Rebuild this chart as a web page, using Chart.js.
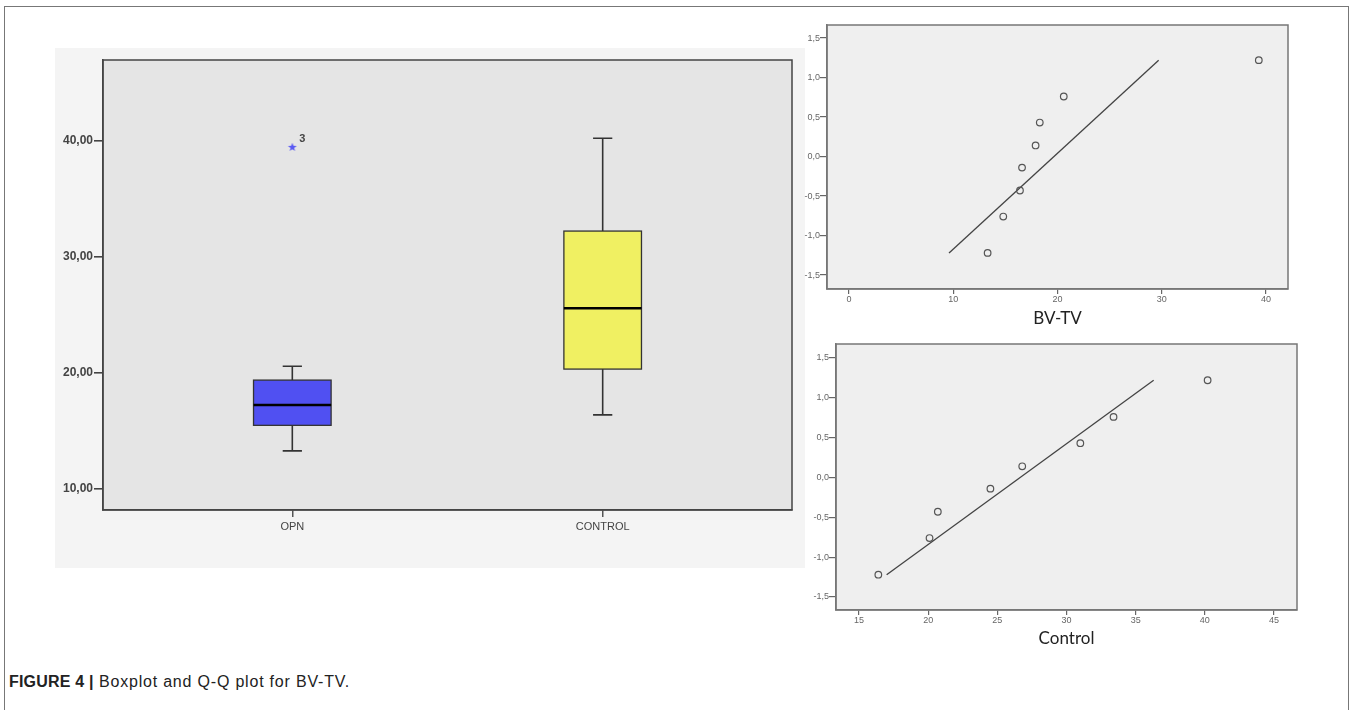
<!DOCTYPE html>
<html>
<head>
<meta charset="utf-8">
<script src="https://cdn.jsdelivr.net/npm/chart.js@4.4.0/dist/chart.umd.min.js"></script>
<style>
  body { margin: 0; background: #fff; width: 1352px; height: 710px; position: relative; overflow: hidden; font-family: "Liberation Sans", Arial, sans-serif; }
  #frame { position: absolute; left: 4px; top: 6px; width: 1345px; height: 740px; border: 1px solid #777; box-sizing: border-box; }
  .wrap { position: absolute; }
  #wrapBox { left: 55px; top: 48px; width: 750px; height: 520px; background: #f4f4f4; }
  #wrapQ1 { left: 790px; top: 14px; width: 520px; height: 320px; }
  #wrapQ2 { left: 790px; top: 333px; width: 520px; height: 330px; }
  #caption { position: absolute; left: 9px; top: 673px; font-size: 16px; letter-spacing: 0.8px; color: #222; white-space: nowrap; }
  #caption b { font-weight: bold; letter-spacing: 0.2px; }
</style>
</head>
<body>
<div id="frame"></div>
<div class="wrap" id="wrapBox"><canvas id="boxChart" width="750" height="520"></canvas></div>
<div class="wrap" id="wrapQ1"><canvas id="qqBv" width="520" height="320"></canvas></div>
<div class="wrap" id="wrapQ2"><canvas id="qqCtrl" width="520" height="330"></canvas></div>
<div id="caption"><b>FIGURE 4 |</b> Boxplot and Q-Q plot for BV-TV.</div>

<script>
// boxplot
const groups = ['OPN', 'CONTROL'];
const whiskerLow = [13.3, 16.4];
const boxLow = [15.5, 20.35];
const medians = [17.25, 25.6];
const boxHigh = [19.4, 32.25];
const whiskerHigh = [20.6, 40.25];
const boxColors = ['#5050f2', '#f0f062'];
const outlierGroup = [1];
const outlierValues = [39.5];
const outlierLabels = ['3'];
const boxTicks = [10, 20, 30, 40];

// Q-Q plots
const qqTicksY = [-1.5, -1, -0.5, 0, 0.5, 1, 1.5];
const bvValues = [13.3, 14.8, 16.4, 16.6, 17.9, 18.3, 20.6, 39.3];
const bvExpected = [-1.22, -0.76, -0.43, -0.14, 0.14, 0.43, 0.76, 1.22];
const bvLineX = [9.6, 29.7];
const bvLineY = [-1.22, 1.22];
const bvTicksX = [0, 10, 20, 30, 40];

const ctrlValues = [16.4, 20.1, 20.7, 24.5, 26.8, 31.0, 33.4, 40.2];
const ctrlExpected = [-1.22, -0.76, -0.43, -0.14, 0.14, 0.43, 0.76, 1.22];
const ctrlLineX = [17.0, 36.3];
const ctrlLineY = [-1.22, 1.22];
const ctrlTicksX = [15, 20, 25, 30, 35, 40, 45];

function comma(v, d) {
    return v.toFixed(d).replace('.', ',');
}

// small filled star like the SPSS extreme marker
function starImage() {
    const cv = document.createElement('canvas');
    cv.width = 10;
    cv.height = 10;
    const c = cv.getContext('2d');
    c.fillStyle = '#5a5af2';
    c.beginPath();
    for (let k = 0; k < 10; k++) {
        const r = k % 2 === 0 ? 4.6 : 1.9;
        const a = -Math.PI / 2 + k * Math.PI / 5;
        c.lineTo(5 + r * Math.cos(a), 5.4 + r * Math.sin(a));
    }
    c.closePath();
    c.fill();
    return cv;
}

// fills plot area and draws the frame round it
function areaPlugin(fill, stroke, width) {
    return {
        id: 'area',
        beforeDraw(chart) {
            const a = chart.chartArea;
            const c = chart.ctx;
            c.save();
            c.fillStyle = fill;
            c.fillRect(a.left, a.top, a.width, a.height);
            c.restore();
        },
        afterDraw(chart) {
            const a = chart.chartArea;
            const c = chart.ctx;
            c.save();
            c.strokeStyle = stroke;
            c.lineWidth = width;
            c.strokeRect(a.left, a.top, a.width, a.height);
            c.restore();
        }
    };
}

const boxPlugin = {
    id: 'boxes',
    beforeDatasetsDraw(chart) {
        const x = chart.scales.x;
        const y = chart.scales.y;
        const c = chart.ctx;
        c.save();
        groups.forEach((g, i) => {
            const cx = x.getPixelForValue(i + 1);
            const half = x.getPixelForValue(i + 1 + 0.125) - cx;
            const cap = x.getPixelForValue(i + 1 + 0.031) - cx;
            const yLo = y.getPixelForValue(boxLow[i]);
            const yHi = y.getPixelForValue(boxHigh[i]);

            c.strokeStyle = '#333';
            c.lineWidth = 1.6;
            c.beginPath();
            c.moveTo(cx, yHi);
            c.lineTo(cx, y.getPixelForValue(whiskerHigh[i]));
            c.moveTo(cx, yLo);
            c.lineTo(cx, y.getPixelForValue(whiskerLow[i]));
            c.moveTo(cx - cap, y.getPixelForValue(whiskerHigh[i]));
            c.lineTo(cx + cap, y.getPixelForValue(whiskerHigh[i]));
            c.moveTo(cx - cap, y.getPixelForValue(whiskerLow[i]));
            c.lineTo(cx + cap, y.getPixelForValue(whiskerLow[i]));
            c.stroke();

            c.fillStyle = boxColors[i];
            c.fillRect(cx - half, yHi, half * 2, yLo - yHi);
            c.lineWidth = 1.3;
            c.strokeRect(cx - half, yHi, half * 2, yLo - yHi);

            c.strokeStyle = '#000';
            c.lineWidth = 2.6;
            c.beginPath();
            c.moveTo(cx - half, y.getPixelForValue(medians[i]));
            c.lineTo(cx + half, y.getPixelForValue(medians[i]));
            c.stroke();
        });
        c.restore();
    },
    afterDatasetsDraw(chart) {
        const x = chart.scales.x;
        const y = chart.scales.y;
        const c = chart.ctx;
        c.save();
        c.fillStyle = '#444';
        c.font = 'bold 11px "Liberation Sans", Arial';
        c.textAlign = 'left';
        c.textBaseline = 'middle';
        outlierValues.forEach((v, i) => {
            c.fillText(outlierLabels[i], x.getPixelForValue(outlierGroup[i]) + 7, y.getPixelForValue(v) - 8);
        });
        c.restore();
    }
};

new Chart(document.getElementById('boxChart'), {
    type: 'scatter',
    data: {
        datasets: [{
            data: outlierValues.map((v, i) => ({ x: outlierGroup[i], y: v })),
            pointStyle: starImage(),
            pointRadius: 5
        }]
    },
    options: {
        responsive: false,
        animation: false,
        layout: { padding: { left: 0, top: 12, right: 13, bottom: 0 } },
        plugins: { legend: { display: false }, tooltip: { enabled: false } },
        scales: {
            x: {
                type: 'linear',
                min: 0.39,
                max: 2.61,
                afterBuildTicks: s => { s.ticks = groups.map((g, i) => ({ value: i + 1 })); },
                afterFit: s => { s.height = 58; },
                ticks: { callback: v => groups[v - 1] || '', color: '#444', font: { size: 11, family: '"Liberation Sans", Arial' }, padding: 3, maxRotation: 0, autoSkip: false },
                grid: { drawOnChartArea: false, tickLength: 7, color: '#555', lineWidth: 1.5 },
                border: { display: true, color: '#444', width: 1.5 }
            },
            y: {
                min: 8.2,
                max: 47,
                afterBuildTicks: s => { s.ticks = boxTicks.map(v => ({ value: v })); },
                afterFit: s => { s.width = 48; },
                ticks: { callback: v => comma(v, 2), color: '#444', font: { size: 12, weight: 'bold', family: '"Liberation Sans", Arial' }, padding: 1 },
                grid: { drawOnChartArea: false, tickLength: 9, color: '#444', lineWidth: 1.6 },
                border: { display: true, color: '#444', width: 1.5 }
            }
        }
    },
    plugins: [areaPlugin('#e5e5e5', '#444', 1.5), boxPlugin]
});

function qqChart(id, values, expected, lineX, lineY, ticksX, xMin, xMax, yMin, yMax, title, layout) {
    const tickFont = { size: 9, family: '"Liberation Sans", Arial' };
    return new Chart(document.getElementById(id), {
        type: 'scatter',
        data: {
            datasets: [{
                data: values.map((v, i) => ({ x: v, y: expected[i] })),
                pointStyle: 'circle',
                pointRadius: 3.3,
                backgroundColor: 'rgba(0,0,0,0)',
                borderColor: '#555',
                borderWidth: 1.2
            }, {
                type: 'line',
                data: lineX.map((v, i) => ({ x: v, y: lineY[i] })),
                borderColor: '#444',
                borderWidth: 1.3,
                pointRadius: 0,
                fill: false
            }]
        },
        options: {
            responsive: false,
            animation: false,
            layout: { padding: { left: 0, top: layout.top, right: layout.right, bottom: 0 } },
            plugins: { legend: { display: false }, tooltip: { enabled: false } },
            scales: {
                x: {
                    type: 'linear',
                    min: xMin,
                    max: xMax,
                    afterBuildTicks: s => { s.ticks = ticksX.map(v => ({ value: v })); },
                    afterFit: s => { s.height = layout.axisH; },
                    ticks: { callback: v => String(v), color: '#666', font: tickFont, padding: 0, maxRotation: 0, autoSkip: false },
                    grid: { drawOnChartArea: false, tickLength: 5, color: '#666', lineWidth: 1.2 },
                    border: { display: true, color: '#777', width: 1.5 },
                    title: { display: true, text: title, color: '#222', font: { size: 17, family: 'Lato' }, padding: { top: 0, bottom: layout.titlePad } }
                },
                y: {
                    min: yMin,
                    max: yMax,
                    afterBuildTicks: s => { s.ticks = qqTicksY.map(v => ({ value: v })); },
                    afterFit: s => { s.width = layout.axisW; },
                    ticks: { callback: v => comma(v, 1), color: '#666', font: tickFont, padding: 0 },
                    grid: { drawOnChartArea: false, tickLength: 7, color: '#666', lineWidth: 1.2 },
                    border: { display: true, color: '#777', width: 1.5 }
                }
            }
        },
        plugins: [areaPlugin('#efefef', '#777', 1.5)]
    });
}

qqChart('qqBv', bvValues, bvExpected, bvLineX, bvLineY, bvTicksX, -2.1, 42.1, -1.677, 1.665, 'BV-TV',
    { top: 11, right: 22, axisH: 45, axisW: 37, titlePad: 5 });
qqChart('qqCtrl', ctrlValues, ctrlExpected, ctrlLineX, ctrlLineY, ctrlTicksX, 13.34, 46.66, -1.663, 1.675, 'Control',
    { top: 11, right: 13, axisH: 53, axisW: 46, titlePad: 14 });
</script>
</body>
</html>
